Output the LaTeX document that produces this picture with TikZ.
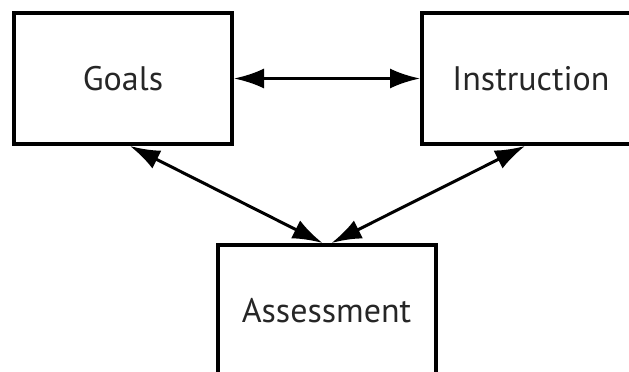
\documentclass[tikz,border=0pt]{standalone}
\usepackage{fontspec}
\setmainfont{PT Sans}
\usepackage{tikz}
\usetikzlibrary{positioning}
\usetikzlibrary{arrows.meta}
\tikzset{>={Latex[length=30pt,width=20pt]}}

\begin{document}
\begin{tikzpicture}[x=1pt,y=1pt,box/.style = {draw, rectangle, line width=4pt, minimum width=218pt, minimum height=131pt, text=black!85, font=\fontsize{34}{40}\selectfont}]
\useasboundingbox (0,0) rectangle (629,372);
\clip (0,0) rectangle (629,372);
    \node[box] (goals) at (123,293.5) {Goals};
    \node[box] (instr) at (531,293.5) {Instruction};
    \node[box] (assess) at (326.5,61.5) {Assessment};
    \draw[<->,line width=3pt] (goals) to (instr);
    \draw[<->,line width=3pt] ([xshift=7pt]goals.south) to ([xshift=-4pt]assess.north);
    \draw[<->,line width=3pt] ([xshift=-6pt]instr.south) to ([xshift=5pt]assess.north);
\end{tikzpicture}
\end{document}
